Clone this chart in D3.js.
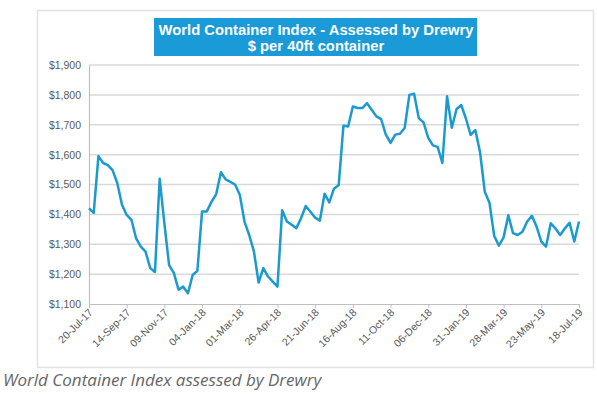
<!DOCTYPE html>
<html>
<head>
<meta charset="utf-8">
<script src="https://cdn.jsdelivr.net/npm/d3@7"></script>
<style>
  body { margin: 0; background: #fff; }
  svg { display: block; }
</style>
</head>
<body>
<svg width="597" height="396"></svg>
<script>
// weekly index values, 20-Jul-17 .. 18-Jul-19
var values = [
  1420, 1405, 1595, 1572, 1565, 1548, 1505, 1432, 1398, 1382,
  1320, 1292, 1275, 1220, 1207, 1519, 1370, 1230, 1204, 1148,
  1158, 1136, 1197, 1211, 1410, 1410, 1442, 1468, 1541, 1517,
  1509, 1500, 1466, 1376, 1331, 1276, 1172, 1220, 1192, 1175,
  1158, 1414, 1376, 1365, 1354, 1387, 1428, 1409, 1389, 1379,
  1469, 1440, 1486, 1498, 1697, 1694, 1761, 1756, 1756, 1772,
  1750, 1728, 1719, 1667, 1639, 1667, 1670, 1689, 1800, 1804,
  1722, 1708, 1656, 1631, 1626, 1572, 1795, 1690, 1752, 1766,
  1721, 1666, 1682, 1608, 1476, 1439, 1328, 1295, 1323, 1397,
  1337, 1331, 1342, 1376, 1395, 1359, 1309, 1292, 1370, 1353,
  1331, 1353, 1372, 1309, 1376
];
var startDate = new Date(2017, 6, 20);
var dates = values.map(function(v, i) { return d3.timeWeek.offset(startDate, i); });

var tickLabels = ["20-Jul-17", "14-Sep-17", "09-Nov-17", "04-Jan-18", "01-Mar-18",
  "26-Apr-18", "21-Jun-18", "16-Aug-18", "11-Oct-18", "06-Dec-18",
  "31-Jan-19", "28-Mar-19", "23-May-19", "18-Jul-19"];
var yTicks = [1100, 1200, 1300, 1400, 1500, 1600, 1700, 1800, 1900];

var titleLines = ["World Container Index - Assessed by Drewry", "$ per 40ft container"];
var caption = "World Container Index assessed by Drewry";

var svg = d3.select("svg"),
  margin = { top: 65, right: 18, bottom: 92, left: 89 },
  width = +svg.attr("width") - margin.left - margin.right,
  height = +svg.attr("height") - margin.top - margin.bottom;

// outer chart frame
svg.append("rect")
  .attr("x", 37.5).attr("y", 10.5)
  .attr("width", 556).attr("height", 357)
  .attr("fill", "#fff")
  .attr("stroke", "#e2e2e2")
  .attr("stroke-width", 1.5);

var g = svg.append("g")
  .attr("transform", "translate(" + margin.left + "," + margin.top + ")");

var parse = d3.timeParse("%d-%b-%y");
var fmt = d3.timeFormat("%d-%b-%y");

var x = d3.scaleTime()
  .domain([dates[0], dates[dates.length - 1]])
  .range([0, width]);

var y = d3.scaleLinear()
  .domain([1100, 1900])
  .range([height, 0]);

// gridlines
g.append("g")
  .selectAll("line")
  .data(yTicks.slice(1))
  .enter()
  .append("line")
  .attr("x1", 0).attr("x2", width)
  .attr("y1", function(d) { return y(d); })
  .attr("y2", function(d) { return y(d); })
  .attr("stroke", "#d9d9d9")
  .attr("stroke-width", 1.5);

// y axis
var yAxis = g.append("g")
  .call(d3.axisLeft(y).tickValues(yTicks).tickSize(0).tickPadding(8)
    .tickFormat(function(d) { return "$" + d3.format(",")(d); }));
yAxis.select(".domain").attr("stroke", "#bfbfbf").attr("stroke-width", 1.2);
yAxis.selectAll("text")
  .attr("fill", "#595959")
  .style("font-family", "Liberation Sans, Arial, sans-serif")
  .style("font-size", "10.5px");

// x axis
var xAxis = g.append("g")
  .attr("transform", "translate(0," + height + ")")
  .call(d3.axisBottom(x)
    .tickValues(tickLabels.map(function(t) { return parse(t); }))
    .tickFormat(fmt)
    .tickSize(4)
    .tickSizeOuter(0));
xAxis.select(".domain").attr("stroke", "#bfbfbf").attr("stroke-width", 1.2);
xAxis.selectAll("line").attr("stroke", "#bfbfbf");
xAxis.selectAll("text")
  .attr("fill", "#595959")
  .style("font-family", "Liberation Sans, Arial, sans-serif")
  .style("font-size", "10.5px")
  .attr("text-anchor", "end")
  .attr("dy", null)
  .attr("y", 0)
  .attr("transform", "translate(4,9) rotate(-45)");

// index line
var line = d3.line()
  .x(function(d, i) { return x(dates[i]); })
  .y(function(d) { return y(d); });

g.append("path")
  .datum(values)
  .attr("fill", "none")
  .attr("stroke", "#1b9ad0")
  .attr("stroke-width", 2.5)
  .attr("stroke-linejoin", "round")
  .attr("d", line);

// title box
svg.append("rect")
  .attr("x", 154).attr("y", 18)
  .attr("width", 323).attr("height", 38)
  .attr("fill", "#1a9ad6");

svg.selectAll(".title")
  .data(titleLines)
  .enter()
  .append("text")
  .attr("class", "title")
  .attr("x", 316)
  .attr("y", function(d, i) { return 35 + i * 16; })
  .attr("text-anchor", "middle")
  .attr("fill", "#fff")
  .style("font-family", "Liberation Sans, Arial, sans-serif")
  .style("font-weight", "bold")
  .style("font-size", "14.8px")
  .text(function(d) { return d; });

// caption under chart
svg.append("text")
  .attr("x", 3)
  .attr("y", 386)
  .attr("fill", "#666")
  .style("font-family", "Open Sans, sans-serif")
  .style("font-style", "italic")
  .style("font-size", "17px")
  .text(caption);
</script>
</body>
</html>
